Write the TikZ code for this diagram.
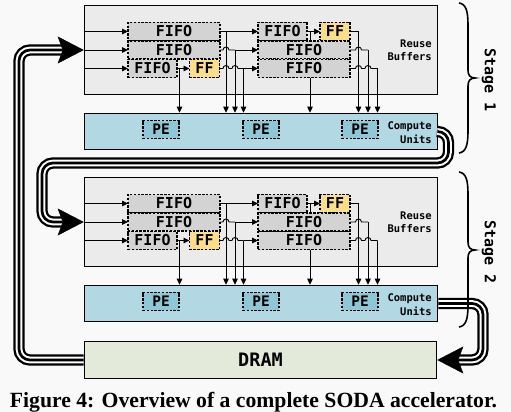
\documentclass[tikz,border=0pt]{standalone}
\usepackage{fontspec}
\usepackage{graphicx}
\newfontfamily\mono{DejaVu Sans Mono}
\newfontfamily\capfont{Liberation Serif}
\usetikzlibrary{arrows.meta}
\pgfdeclarelayer{bg}
\pgfdeclarelayer{wires}
\pgfsetlayers{bg,wires,main}
\definecolor{bgcol}{RGB}{249,249,249}
\definecolor{reusecol}{RGB}{235,235,235}
\definecolor{fifocol}{RGB}{211,211,211}
\definecolor{ffcol}{RGB}{250,222,140}
\definecolor{cucol}{RGB}{178,216,227}
\definecolor{pecol}{RGB}{143,199,214}
\definecolor{dramcol}{RGB}{227,234,217}
\tikzset{
  box/.style={draw=black, line width=1.6pt, inner sep=0pt},
  reusebox/.style={box, fill=reusecol, minimum width=353pt, minimum height=89pt},
  cubox/.style={box, fill=cucol, minimum width=353pt, minimum height=36pt},
  drambox/.style={box, fill=dramcol, minimum width=352pt, minimum height=37pt,
    font=\mono\bfseries\fontsize{18.5}{20}\selectfont},
  buf/.style={draw=black, line width=1.1pt, dash pattern=on 2.4pt off 1.4pt,
    inner sep=0pt, outer sep=0pt, minimum height=18pt,
    font=\mono\bfseries\fontsize{15}{16}\selectfont},
  fifolong/.style={buf, fill=fifocol, minimum width=92pt},
  fifoshort/.style={buf, fill=fifocol, minimum width=49pt},
  ffbox/.style={buf, fill=ffcol, minimum width=30pt},
  pebox/.style={buf, fill=pecol, minimum width=36pt, minimum height=17.5pt,
    font=\mono\bfseries\fontsize{14.5}{15}\selectfont},
  wire/.style={line width=0.9pt, draw=black},
  arr/.style={wire, -{Triangle[length=6pt,width=5.5pt]}},
  lbl/.style={font=\mono\bfseries\fontsize{10.5}{13.5}\selectfont, align=right,
    anchor=east, inner sep=0pt},
  bus/.style={draw=black, line width=11.3pt, rounded corners=11pt,
    postaction={draw=white, line width=6.7pt},
    postaction={draw=black, line width=2.7pt}},
  bigarrow/.style={line width=0.4pt, -{Stealth[length=26pt,width=27pt,inset=5pt]}},
  bracepath/.style={draw=black, line width=1.6pt},
  stagelbl/.style={font=\mono\bfseries\fontsize{15}{16}\selectfont, rotate=-90, inner sep=0pt}
}
\begin{document}
\begin{tikzpicture}[x=1pt,y=-1pt]
\useasboundingbox (0,0) rectangle (511,412);
\begin{pgfonlayer}{bg}
  \fill[bgcol] (0,0) rectangle (511,412);
\end{pgfonlayer}

\foreach \s/\o/\T/\B/\M in {1/0/3/153/78, 2/172/172/327/250} {
  \begin{pgfonlayer}{bg}
    \node[reusebox] (r\s) at (261, 50+\o) {};
    \node[cubox] (c\s) at (261, 131.5+\o) {};
  \end{pgfonlayer}
  % first group
  \node[fifolong] (a1\s) at (174, 31.5+\o) {FIFO};
  \node[fifolong] (a2\s) at (174, 50+\o) {FIFO};
  \node[fifoshort] (a3\s) at (152.5, 68.5+\o) {FIFO};
  \node[ffbox] (af\s) at (204.5, 68.5+\o) {FF};
  % second group
  \node[fifoshort] (b1\s) at (282.5, 31.5+\o) {FIFO};
  \node[ffbox] (bf\s) at (335, 31.5+\o) {FF};
  \node[fifolong] (b2\s) at (304, 50+\o) {FIFO};
  \node[fifolong] (b3\s) at (304, 68.5+\o) {FIFO};
  % PEs
  \node[pebox] (p1\s) at (161, 129.5+\o) {PE};
  \node[pebox] (p2\s) at (261, 129.5+\o) {PE};
  \node[pebox] (p3\s) at (360, 129.5+\o) {PE};
  % labels
  \node[lbl] (lr\s) at (432, 50+\o) {Reuse\\Buffers};
  \node[lbl] (lc\s) at (432, 132.5+\o) {Compute\\Units};
  % brace and stage label
  \draw[bracepath] (459,\T) .. controls (466,\T+1) and (468,\T+8) .. (468,\T+22)
     -- (468,\M-8) .. controls (468,\M-3) and (470,\M) .. (475,\M)
     .. controls (470,\M) and (468,\M+3) .. (468,\M+8)
     -- (468,\B-22) .. controls (468,\B-8) and (466,\B-1) .. (459,\B);
  \node[stagelbl] (st\s) at (489, \M+2) {Stage \s};
  \begin{pgfonlayer}{wires}
    % inputs
    \draw[arr] (r\s.west |- a1\s.west) -- (a1\s.west);
    \draw[arr] (r\s.west |- a2\s.west) -- (a2\s.west);
    \draw[arr] (r\s.west |- a3\s.west) -- (a3\s.west);
    % first group outputs
    \coordinate (v1\s) at ([xshift=6pt]a1\s.east);
    \coordinate (v2\s) at ([xshift=15pt]a2\s.east);
    \coordinate (v3\s) at ([xshift=24pt]af\s.east);
    \coordinate (u\s) at ([xshift=2.5pt]a3\s.east);
    \draw[arr] (a1\s.east) -- (b1\s.west);
    \draw[arr] (a1\s.east) -| (v1\s |- c\s.north);
    \draw[wire] (a2\s.east) -- ++(3,0) arc[start angle=180,end angle=360,radius=3] -- (v2\s);
    \draw[arr] (v2\s) -- (v2\s |- c\s.north);
    \draw[arr] (v2\s) -- (b2\s.west);
    \draw[arr] (a3\s.east) -- (af\s.west);
    \draw[arr] (u\s) -- (u\s |- c\s.north);
    \draw[wire] (af\s.east) -- ++(3.5,0) arc[start angle=180,end angle=360,radius=3]
       -- ++(3,0) arc[start angle=180,end angle=360,radius=3] -- (v3\s);
    \draw[arr] (v3\s) -- (v3\s |- c\s.north);
    \draw[arr] (v3\s) -- (b3\s.west);
    % second group outputs
    \coordinate (w\s) at ([xshift=3pt]b1\s.east);
    \coordinate (x1\s) at ([xshift=8.5pt]bf\s.east);
    \coordinate (x2\s) at ([xshift=18pt]b2\s.east);
    \coordinate (x3\s) at ([xshift=27.5pt]b3\s.east);
    \draw[arr] (b1\s.east) -- (bf\s.west);
    \draw[arr] (w\s) -- (w\s |- c\s.north);
    \draw[arr] (bf\s.east) -| (x1\s |- c\s.north);
    \draw[wire] (b2\s.east) -- ++(5.5,0) arc[start angle=180,end angle=360,radius=3] -- (x2\s);
    \draw[arr] (x2\s) -- (x2\s |- c\s.north);
    \draw[wire] (b3\s.east) -- ++(5.5,0) arc[start angle=180,end angle=360,radius=3]
       -- ++(3.5,0) arc[start angle=180,end angle=360,radius=3] -- (x3\s);
    \draw[arr] (x3\s) -- (x3\s |- c\s.north);
  \end{pgfonlayer}
}

\begin{pgfonlayer}{bg}
  \node[drambox] (dram) at (260.5, 360) {DRAM};
\end{pgfonlayer}

\coordinate (lx) at (19,0);
\coordinate (mx) at (42,0);
\coordinate (rx) at (448.5,0);
\coordinate (rrx) at (483,0);
\coordinate (my) at (0,163);

\begin{pgfonlayer}{wires}
  \draw[bus] (dram.west) -| (lx |- r1.west) -- ([xshift=-21pt]r1.west);
  \draw[bigarrow] ([xshift=-26pt]r1.west) -- (r1.west);
  \draw[bus] (c1.east) -| (rx |- my) -| (mx |- r2.west) -- ([xshift=-21pt]r2.west);
  \draw[bigarrow] ([xshift=-26pt]r2.west) -- (r2.west);
  \draw[bus] (c2.east) -| (rrx |- dram.east) -- ([xshift=21pt]dram.east);
  \draw[bigarrow] ([xshift=26pt]dram.east) -- (dram.east);
\end{pgfonlayer}

\node[anchor=base, inner sep=0pt] (cap) at (253.5, 407)
  {\resizebox{487pt}{!}{\capfont\bfseries Figure 4: Overview of a complete SODA accelerator.}};
\end{tikzpicture}
\end{document}
